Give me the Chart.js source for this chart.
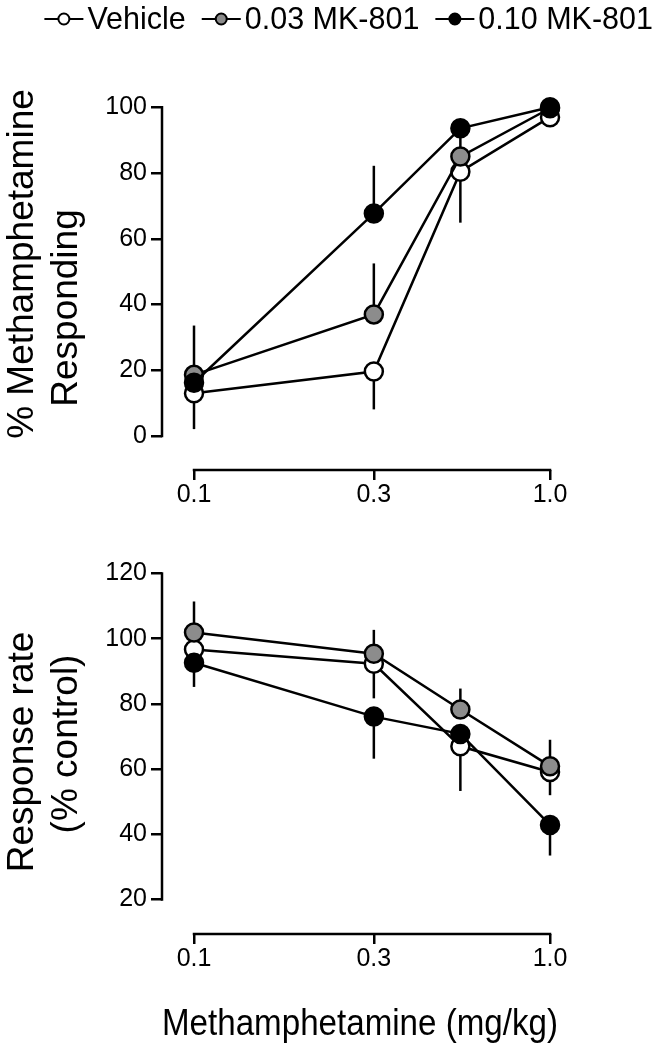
<!DOCTYPE html>
<html><head><meta charset="utf-8">
<script src="https://cdn.jsdelivr.net/npm/chart.js@4.4.1/dist/chart.umd.min.js"></script>
<style>
html,body{margin:0;padding:0;background:#fff;}
#wrap{position:relative;width:658px;height:1050px;background:#fff;}
canvas{position:absolute;left:0;}
#c1{top:0}
#c2{top:520px}
</style></head><body>
<div id="wrap"><canvas id="c1" width="658" height="520"></canvas><canvas id="c2" width="658" height="530"></canvas></div>
<script>
// ---- data ----
const doses = [0.1, 0.32, 0.56, 1.0];
const xTickValues = [0.1, 0.32, 1.0];
const xTickLabels = ['0.1', '0.3', '1.0'];
const seriesNames = ['Vehicle', '0.03 MK-801', '0.10 MK-801'];
const topTicks = [0, 20, 40, 60, 80, 100];
const bottomTicks = [20, 40, 60, 80, 100, 120];
const topYTitle = ['% Methamphetamine', 'Responding'];
const bottomYTitle = ['Response rate', '(% control)'];
const xTitleText = 'Methamphetamine (mg/kg)';

// % methamphetamine responding
const vehicleResp = [13.0, 19.6, 80.4, 97.0];
const mk003Resp = [18.6, 37.0, 85.0, 99.7];
const mk010Resp = [16.2, 67.7, 93.6, 100.0];
const vehicleRespErrUp = [0, 0, 0, 0];
const vehicleRespErrDown = [10.9, 11.5, 15.5, 0];
const mk003RespErrUp = [15.0, 15.5, 6.0, 0];
const mk003RespErrDown = [0, 0, 0, 0];
const mk010RespErrUp = [0, 14.5, 0, 0];
const mk010RespErrDown = [0, 0, 0, 0];

// response rate (% control)
const vehicleRate = [96.7, 92.3, 67.0, 59.1];
const mk003Rate = [101.9, 95.4, 78.3, 60.9];
const mk010Rate = [92.6, 76.1, 70.8, 42.9];
const vehicleRateErrUp = [0, 0, 0, 0];
const vehicleRateErrDown = [0, 10.6, 13.7, 7.1];
const mk003RateErrUp = [9.5, 7.3, 6.4, 8.1];
const mk003RateErrDown = [0, 0, 0, 0];
const mk010RateErrUp = [0, 0, 0, 0];
const mk010RateErrDown = [7.4, 12.9, 0, 9.4];

// ---- styles ----
const FONT = '"Liberation Sans", Arial, Helvetica, sans-serif';
const fills = ['#ffffff', '#8c8c8c', '#000000'];
Chart.defaults.font.family = FONT;
Chart.defaults.color = '#000';

const errorBars = {
  id: 'errorBars',
  beforeDatasetsDraw(chart) {
    const {ctx, scales: {x, y}} = chart;
    ctx.save();
    ctx.strokeStyle = '#000';
    ctx.lineWidth = 2.5;
    chart.data.datasets.forEach(ds => {
      ds.data.forEach((p, j) => {
        const px = x.getPixelForValue(p.x);
        const py = y.getPixelForValue(p.y);
        ctx.beginPath();
        if (ds.errUp[j] > 0) { ctx.moveTo(px, py); ctx.lineTo(px, y.getPixelForValue(p.y + ds.errUp[j])); }
        if (ds.errDown[j] > 0) { ctx.moveTo(px, py); ctx.lineTo(px, y.getPixelForValue(p.y - ds.errDown[j])); }
        ctx.stroke();
      });
    });
    ctx.restore();
  }
};

const axisLines = {
  id: 'axisLines',
  beforeDatasetsDraw(chart, args, o) {
    const {ctx, chartArea, scales: {x, y}} = chart;
    ctx.save();
    ctx.strokeStyle = '#000';
    ctx.lineWidth = 2.5;
    ctx.beginPath();
    ctx.moveTo(chartArea.left, y.getPixelForValue(o.yFrom) + 1.25);
    ctx.lineTo(chartArea.left, y.getPixelForValue(o.yTo) - 1.25);
    ctx.moveTo(x.getPixelForValue(o.xFrom) - 1.25, chartArea.bottom);
    ctx.lineTo(x.getPixelForValue(o.xTo) + 1.25, chartArea.bottom);
    ctx.stroke();
    ctx.restore();
  }
};

const yTitlePlugin = {
  id: 'yTitlePlugin',
  afterDraw(chart, args, o) {
    const ctx = chart.ctx;
    ctx.save();
    ctx.font = o.size + 'px ' + FONT;
    ctx.fillStyle = '#000';
    ctx.textAlign = 'center';
    ctx.textBaseline = 'middle';
    o.lines.forEach((t, i) => {
      ctx.save();
      ctx.translate(o.xs[i], o.ys[i]);
      ctx.rotate(-Math.PI / 2);
      ctx.fillText(t, 0, 0);
      ctx.restore();
    });
    ctx.restore();
  }
};

const customLegend = {
  id: 'customLegend',
  afterDraw(chart, args, o) {
    if (!o.show) return;
    const ctx = chart.ctx;
    ctx.save();
    ctx.font = o.size + 'px ' + FONT;
    const symW = 39, gapT = 4, gapI = 16;
    const widths = seriesNames.map(n => ctx.measureText(n).width);
    const total = widths.reduce((a, b) => a + b, 0) + 3 * (symW + gapT) + 2 * gapI;
    let xx = o.right - total;
    seriesNames.forEach((n, i) => {
      ctx.strokeStyle = '#000';
      ctx.lineWidth = 2;
      ctx.beginPath();
      ctx.moveTo(xx, o.cy); ctx.lineTo(xx + symW, o.cy);
      ctx.stroke();
      ctx.beginPath();
      ctx.arc(xx + symW / 2, o.cy, 5.5, 0, Math.PI * 2);
      ctx.fillStyle = fills[i];
      ctx.fill();
      ctx.stroke();
      ctx.fillStyle = '#000';
      ctx.textBaseline = 'alphabetic';
      ctx.fillText(n, xx + symW + gapT, o.baseline);
      xx += symW + gapT + widths[i] + gapI;
    });
    ctx.restore();
  }
};

function makeDatasets(vals, ups, downs) {
  return vals.map((v, i) => ({
    label: seriesNames[i],
    data: doses.map((d, j) => ({x: d, y: v[j]})),
    errUp: ups[i],
    errDown: downs[i],
    borderColor: '#000',
    borderWidth: 2.5,
    pointRadius: 9,
    pointHoverRadius: 9,
    pointBackgroundColor: fills[i],
    pointBorderColor: '#000',
    pointBorderWidth: 2.5,
    tension: 0,
    clip: false,
    order: 3 - i
  }));
}

function makeChart(canvas, cfg) {
  return new Chart(canvas, {
    type: 'line',
    data: {datasets: cfg.datasets},
    options: {
      responsive: false,
      animation: false,
      devicePixelRatio: 1,
      layout: {padding: cfg.padding},
      plugins: {
        legend: {display: false},
        tooltip: {enabled: false},
        axisLines: cfg.axis,
        customLegend: cfg.legend,
        yTitlePlugin: cfg.yTitle
      },
      scales: {
        x: {
          type: 'logarithmic',
          min: cfg.xMin, max: cfg.xMax,
          afterBuildTicks: s => { s.ticks = xTickValues.map(v => ({value: v})); },
          afterFit: s => { s.height = cfg.xHeight; },
          ticks: {autoSkip: false, maxRotation: 0, minRotation: 0, padding: 0, color: '#000',
                  font: {size: 25}, callback: (v, i) => xTickLabels[i]},
          grid: {drawOnChartArea: false, drawTicks: true, tickLength: 10, color: '#000', lineWidth: 2.5},
          border: {display: false},
          title: cfg.xTitle
        },
        y: {
          type: 'linear',
          min: cfg.yMin, max: cfg.yMax,
          afterBuildTicks: s => { s.ticks = cfg.yTicks.map(v => ({value: v})); },
          afterFit: s => { s.width = 162; },
          ticks: {padding: 4, color: '#000', font: {size: 25}, callback: v => String(v)},
          grid: {drawOnChartArea: false, drawTicks: true, tickLength: 11, color: '#000', lineWidth: 2.5},
          border: {display: false},
          title: {display: false}
        }
      }
    },
    plugins: [errorBars, axisLines, customLegend, yTitlePlugin]
  });
}

makeChart(document.getElementById('c1'), {
  datasets: makeDatasets([vehicleResp, mk003Resp, mk010Resp],
    [vehicleRespErrUp, mk003RespErrUp, mk010RespErrUp],
    [vehicleRespErrDown, mk003RespErrDown, mk010RespErrDown]),
  padding: {top: 73, left: 0, right: 100, bottom: 0},
  xMin: 0.0813, xMax: 1.053, xHeight: 50,
  yMin: -10.34, yMax: 110.43, yTicks: topTicks,
  yTitle: {lines: topYTitle, size: 37, xs: [22.5, 67], ys: [264, 308]},
  xTitle: {display: false},
  axis: {yFrom: 0, yTo: 100, xFrom: 0.1, xTo: 1.0},
  legend: {show: true, size: 30.5, right: 653, cy: 19, baseline: 28.5}
});

makeChart(document.getElementById('c2'), {
  datasets: makeDatasets([vehicleRate, mk003Rate, mk010Rate],
    [vehicleRateErrUp, mk003RateErrUp, mk010RateErrUp],
    [vehicleRateErrDown, mk003RateErrDown, mk010RateErrDown]),
  padding: {top: 16, left: 0, right: 100, bottom: 0},
  xMin: 0.0813, xMax: 1.053, xHeight: 116,
  yMin: 9.44, yMax: 130.56, yTicks: bottomTicks,
  yTitle: {lines: bottomYTitle, size: 37, xs: [22.5, 67], ys: [232, 224]},
  xTitle: {display: true, text: xTitleText, color: '#000', font: {size: 37}, padding: {top: 0, bottom: 3}},
  axis: {yFrom: 20, yTo: 120, xFrom: 0.1, xTo: 1.0},
  legend: {show: false}
});
</script>
</body></html>
